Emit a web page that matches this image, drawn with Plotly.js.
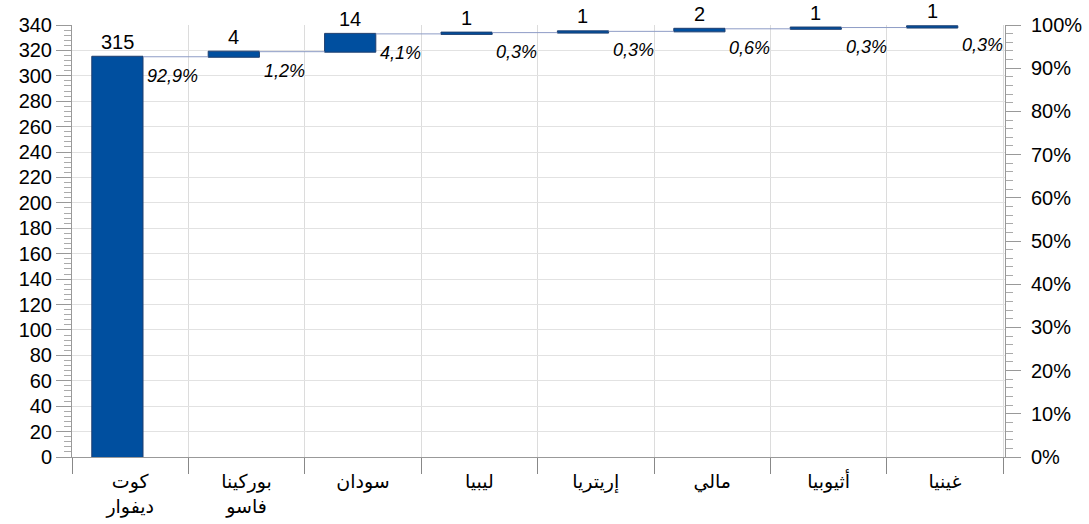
<!DOCTYPE html>
<html>
<head>
<meta charset="utf-8">
<script src="https://cdn.plot.ly/plotly-3.0.1.min.js"></script>
<style>html,body{margin:0;padding:0;background:#fff;}#chart{width:1089px;height:524px;}</style>
</head>
<body>
<div id="chart"></div>
<script>
// Data
const categories = ["كوت<br>ديفوار", "بوركينا<br>فاسو", "سودان", "ليبيا", "إريتريا", "مالي", "أثيوبيا", "غينيا"];
const values = [315, 4, 14, 1, 1, 2, 1, 1];
const leftTicks = [0,20,40,60,80,100,120,140,160,180,200,220,240,260,280,300,320,340];
const rightTicks = [0,10,20,30,40,50,60,70,80,90,100];
const rightTickText = rightTicks.map(t => t + '%');

const total = values.reduce((a,b)=>a+b,0);
const cumulative = [];
values.reduce((acc,v,i)=>{cumulative[i]=acc+v; return acc+v;},0);
const pctLabels = values.map(v => (v/total*100).toFixed(1).replace('.', ',') + '%');

const FONT = "Liberation Sans, Arial, DejaVu Sans, sans-serif";

const trace = {
  type: 'waterfall',
  x: categories,
  y: values,
  measure: values.map(()=> 'relative'),
  width: 0.44,
  offset: -0.33,
  increasing: {marker: {color: '#004F9F', line: {color: '#1E3E6E', width: 1}}},
  connector: {mode: 'between', line: {color: '#8E9CC6', width: 1}},
  textposition: 'none',
  hoverinfo: 'x+y',
  showlegend: false
};

const pctTrace = {
  type: 'scatter',
  x: categories,
  y: cumulative.map(c => c/340*100),
  yaxis: 'y2',
  mode: 'markers',
  marker: {opacity: 0},
  hoverinfo: 'skip',
  showlegend: false
};

const annotations = [];
categories.forEach((c,i)=>{
  annotations.push({
    x: c, y: cumulative[i], xref: 'x', yref: 'y',
    text: String(values[i]), showarrow: false,
    xanchor: 'center', yanchor: 'bottom', xshift: -13, yshift: 2,
    font: {family: FONT, size: 20, color: '#000'}
  });
  annotations.push({
    x: c, y: cumulative[i], xref: 'x', yref: 'y',
    text: '<i>' + pctLabels[i] + '</i>', showarrow: false,
    xanchor: 'left', yanchor: 'middle', xshift: 15, yshift: -19,
    font: {family: FONT, size: 18, color: '#000'}
  });
});

const layout = {
  width: 1089, height: 524,
  margin: {l: 72, r: 84, t: 25, b: 67, pad: 0},
  paper_bgcolor: '#fff', plot_bgcolor: '#fff',
  showlegend: false,
  xaxis: {
    type: 'category',
    tickson: 'boundaries',
    ticks: 'outside', ticklen: 16, tickcolor: '#888', tickwidth: 1,
    showgrid: true, gridcolor: '#dcdcdc', gridwidth: 1,
    showline: true, linecolor: '#999', linewidth: 1,
    tickfont: {family: 'DejaVu Sans, sans-serif', size: 19, color: '#000'},
    ticklabelstandoff: 7,
    zeroline: false, fixedrange: true
  },
  yaxis: {
    range: [0, 340],
    tickvals: leftTicks,
    ticks: 'outside', ticklen: 15, tickcolor: '#999', tickwidth: 1,
    minor: {dtick: 4, ticks: 'outside', ticklen: 7, tickcolor: '#aaa', showgrid: false},
    showgrid: true, gridcolor: '#e2e2e2', gridwidth: 1,
    showline: true, linecolor: '#999', linewidth: 1,
    zeroline: false,
    tickfont: {family: FONT, size: 20, color: '#000'},
    ticklabelstandoff: 0,
    fixedrange: true
  },
  yaxis2: {
    overlaying: 'y', side: 'right', anchor: 'x',
    range: [0, 100],
    tickmode: 'array',
    tickvals: rightTicks, ticktext: rightTickText,
    ticks: 'outside', ticklen: 15, tickcolor: '#999', tickwidth: 1,
    minor: {dtick: 2, ticks: 'outside', ticklen: 7, tickcolor: '#aaa', showgrid: false},
    showgrid: false,
    showline: true, linecolor: '#999', linewidth: 1,
    zeroline: false,
    tickfont: {family: FONT, size: 20, color: '#000'},
    ticklabelstandoff: 6,
    fixedrange: true
  },
  annotations: annotations
};

Plotly.newPlot('chart', [trace, pctTrace], layout, {displayModeBar: false, staticPlot: true});
</script>
</body>
</html>
